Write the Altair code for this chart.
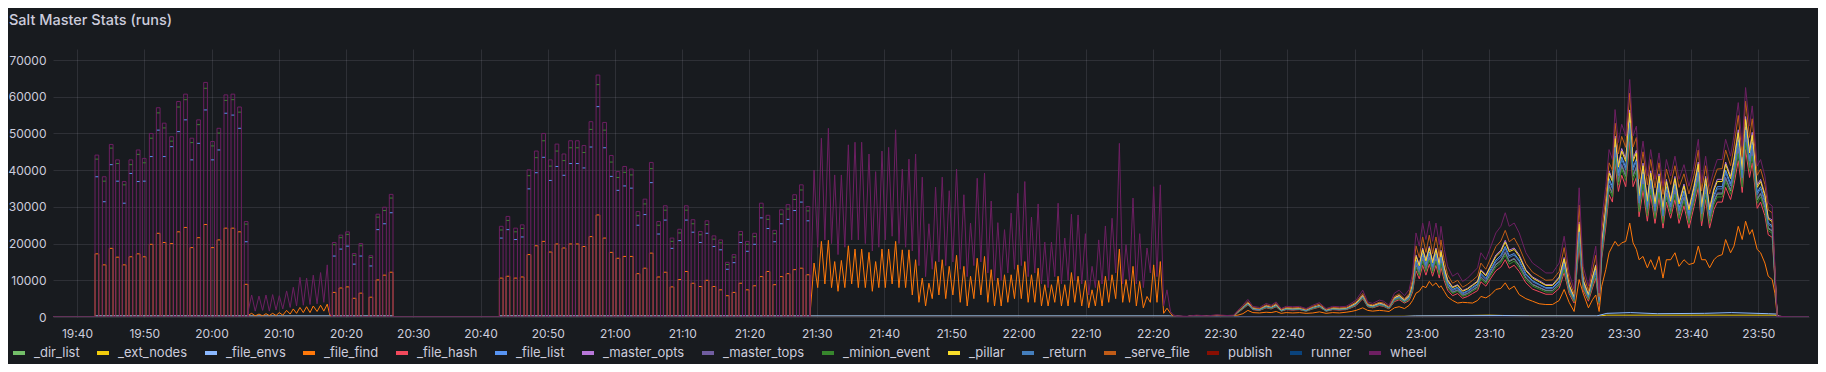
import altair as alt
import pandas as pd

# ---------------- series / colours ----------------
SERIES = ["_dir_list", "_ext_nodes", "_file_envs", "_file_find", "_file_hash", "_file_list",
          "_master_opts", "_master_tops", "_minion_event", "_pillar", "_return", "_serve_file",
          "publish", "runner", "wheel"]
COLORS = ["#73BF69", "#F2CC0C", "#8AB8FF", "#FF780A", "#F2495C", "#5794F2", "#B877D9",
          "#705DA0", "#37872D", "#FADE2A", "#447EBC", "#C15C17", "#890F02", "#0A437C", "#6D1F62"]

# time = minutes after 19:40, values in thousands of runs
X_MIN, X_MAX = -3.57, 257.55
BAR_W = 0.55
TICK_MINUTES = list(range(0, 251, 10))
Y_TICKS = list(range(0, 70001, 10000))

# ---- 19:42 - 20:05 : pulses ----
S2_START = [2.68, 3.77, 4.81, 5.75, 6.74, 7.73, 8.82, 9.72, 10.76, 11.80, 12.69, 13.78,
            14.82, 15.86, 16.80, 17.80, 18.84, 19.88, 20.82, 21.86, 22.90, 23.89, 24.88]
S2_WHEEL = [44.1, 38.2, 47.0, 42.8, 36.9, 42.8, 45.5, 43.2, 50.0, 57.0, 52.8, 49.1,
            58.7, 60.7, 48.7, 53.7, 63.9, 47.8, 51.4, 60.5, 60.7, 57.2, 26.0]
S2_MINION = [43.0, 37.0, 46.0, 41.8, 36.0, 41.5, 44.3, 42.0, 48.7, 55.6, 51.5, 47.9,
             57.2, 59.2, 47.5, 52.4, 62.3, 46.6, 50.1, 59.0, 59.2, 55.8, 25.3]
S2_LIST = [38.2, 31.4, 41.5, 37.0, 31.0, 39.1, 36.9, 37.0, 43.7, 50.9, 43.7, 46.4,
           50.5, 53.7, 42.8, 47.3, 56.4, 42.8, 45.5, 55.5, 55.0, 51.4, 20.5]
S2_FIND = [17.2, 14.2, 18.7, 16.3, 14.2, 16.4, 17.2, 16.4, 19.8, 22.8, 20.3, 20.0,
           23.2, 24.4, 18.9, 21.6, 25.2, 18.9, 21.0, 24.2, 24.2, 23.2, 8.9]

# ---- 20:05 - 20:18 : low humps ----
S3_T = [25.5, 25.97, 26.5, 27.06, 27.6, 28.10, 28.6, 29.09, 29.6, 30.08, 30.6, 31.17, 31.7,
        32.16, 32.65, 33.15, 33.65, 34.14, 34.65, 35.13, 35.7, 36.22, 36.7, 37.21, 37.6]
S3_WHEEL = [2.0, 6.0, 1.6, 5.7, 1.8, 6.0, 1.6, 6.1, 1.9, 5.8, 2.2, 7.1, 2.6,
            8.1, 3.0, 10.8, 3.2, 10.6, 3.4, 11.4, 3.6, 12.1, 4.0, 14.2, 1.0]
S3_FIND = [0.5, 1.0, 0.3, 0.8, 0.3, 0.9, 0.4, 1.0, 0.4, 1.2, 0.5, 1.8, 0.8,
           2.2, 1.0, 2.6, 1.2, 2.8, 1.2, 3.0, 1.5, 3.2, 1.6, 3.5, 0.5]

# ---- 20:18 - 20:27 : pulses ----
S4_START = [37.97, 38.96, 39.95, 40.94, 41.93, 43.42, 44.46, 45.45, 46.44]
S4_WHEEL = [20.3, 22.3, 23.2, 17.3, 20.0, 16.7, 28.0, 29.9, 33.4]
S4_MINION = [19.7, 21.6, 22.5, 16.8, 19.4, 16.2, 27.2, 29.0, 32.4]
S4_LIST = [16.6, 18.5, 19.3, 14.4, 16.6, 13.9, 23.8, 25.4, 28.4]
S4_FIND = [6.7, 7.9, 8.2, 5.1, 6.5, 5.4, 10.1, 11.4, 12.2]

# ---- 20:42 - 21:29 : pulses ----
S6_START = [62.81, 63.80, 64.94, 65.93, 66.93, 68.02, 69.11, 70.10, 71.09, 72.13,
            73.12, 74.12, 75.11, 76.15, 77.19, 78.18, 79.17, 80.16, 81.16, 82.15,
            83.14, 84.18, 85.12, 86.21, 87.20, 88.20, 89.34, 90.33, 91.32, 92.41,
            93.40, 94.44, 95.43, 96.43, 97.42, 98.41, 99.40, 100.49, 101.48, 102.47,
            103.47, 104.46, 105.45, 106.44, 107.43, 108.42]
S6_WHEEL = [24.7, 27.4, 24.2, 25.1, 40.1, 45.2, 50.0, 42.8, 47.1, 44.4,
            48.0, 48.0, 46.7, 53.2, 65.9, 53.0, 44.0, 39.6, 41.0, 40.3,
            28.7, 32.1, 42.1, 26.0, 30.3, 21.5, 23.9, 30.3, 26.5, 23.3,
            26.2, 22.1, 21.0, 14.9, 17.0, 23.3, 20.6, 22.8, 31.0, 27.7,
            23.6, 29.2, 30.6, 33.3, 36.0, 30.1]
S6_MINION = [23.7, 26.3, 23.2, 24.1, 38.5, 43.4, 48.0, 41.1, 45.2, 42.6,
             46.1, 46.1, 44.8, 51.1, 63.3, 50.9, 42.2, 38.0, 39.4, 38.7,
             27.6, 30.8, 40.4, 25.0, 29.1, 20.6, 22.9, 29.1, 25.4, 22.4,
             25.2, 21.2, 20.2, 14.3, 16.3, 22.4, 19.8, 21.9, 29.8, 26.6,
             22.7, 28.0, 29.4, 32.0, 34.6, 28.9]
S6_LIST = [21.5, 23.8, 21.1, 21.8, 34.9, 39.3, 43.5, 37.2, 41.0, 38.6,
           41.8, 41.8, 40.6, 46.3, 57.3, 46.1, 38.3, 34.5, 35.7, 35.1,
           25.0, 27.9, 36.6, 22.6, 26.4, 18.7, 20.8, 26.4, 23.1, 20.3,
           22.8, 19.2, 18.3, 13.0, 14.8, 20.3, 17.9, 19.8, 27.0, 24.1,
           20.5, 25.4, 26.6, 29.0, 31.3, 26.2]
S6_FIND = [10.6, 11.1, 10.6, 10.9, 17.0, 19.4, 20.6, 17.7, 19.9, 18.8,
           19.9, 19.9, 19.2, 21.9, 27.8, 21.5, 17.6, 16.0, 16.5, 16.5,
           11.8, 13.3, 17.4, 10.9, 12.2, 8.2, 10.2, 12.4, 9.2, 8.3,
           10.0, 8.3, 7.4, 5.8, 6.7, 9.2, 7.4, 8.5, 11.0, 12.4,
           8.8, 11.0, 11.8, 12.9, 13.3, 11.5]

# ---- 21:29 - 22:23 : spikes (peaks, with troughs between them) ----
S7_PEAK_T = [109.60, 110.69, 111.73, 112.67, 113.66, 114.70, 115.69, 116.68, 117.77, 118.76,
             119.70, 120.69, 121.73, 122.72, 123.71, 124.70, 125.69, 126.68, 127.67, 128.66,
             129.70, 130.79, 131.88, 132.87, 133.86, 134.95, 135.94, 136.93, 137.92, 138.91,
             139.90, 140.94, 141.93, 142.92, 143.91, 144.90, 145.89, 146.88, 147.87, 148.86,
             149.95, 150.94, 151.93, 152.92, 153.91, 155.00, 155.99, 157.03, 158.02, 159.11,
             160.10, 161.09, 162.08]
S7_WHEEL_PEAK = [40.0, 48.7, 51.4, 38.7, 38.7, 46.9, 47.6, 47.6, 44.4, 39.6,
                 45.2, 46.2, 51.0, 40.3, 43.0, 44.4, 38.1, 25.4, 35.4, 38.1,
                 34.4, 40.3, 33.3, 25.6, 37.8, 39.2, 31.6, 25.7, 23.8, 28.3,
                 33.7, 36.9, 27.2, 30.8, 20.4, 20.4, 31.0, 21.5, 28.0, 27.8,
                 22.7, 13.8, 21.0, 24.8, 26.9, 47.3, 19.7, 32.4, 22.7, 18.8,
                 35.5, 36.0, 7.4]
S7_WHEEL_TROUGH = [19, 21, 20, 17, 19, 21, 21, 20, 18, 19, 21, 22, 20, 19, 18,
                   14, 11, 13, 15, 14, 15, 13, 11, 14, 15, 12, 10, 10, 12, 13,
                   14, 11, 12, 9, 8, 11, 9, 10, 10, 9, 6, 8, 9, 10, 12, 9, 10, 9, 8, 12, 11, 3]
S7_FIND_PEAK = [14.7, 20.6, 20.9, 15.1, 15.4, 19.4, 18.5, 18.5, 17.6, 15.1,
                18.5, 18.5, 20.6, 18.3, 18.3, 15.6, 10.6, 9.2, 15.1, 15.6,
                13.8, 16.8, 13.8, 11.1, 16.0, 16.5, 12.9, 10.6, 11.5, 11.5,
                14.2, 15.1, 11.5, 13.3, 8.8, 8.8, 11.1, 8.8, 12.1, 11.1,
                9.9, 7.4, 9.9, 11.1, 11.5, 18.5, 10.2, 13.8, 9.7, 5.6,
                14.2, 15.1, 2.4]
S7_FIND_TROUGH = [8, 9, 8, 7, 8, 9, 8, 8, 7, 8, 8, 9, 8, 8, 6,
                  4, 3, 5, 6, 5, 6, 4, 3, 5, 6, 4, 3, 3, 4, 5,
                  5, 4, 4, 3, 3, 4, 3, 3, 4, 3, 2.5, 3, 3, 4, 5, 4, 4, 3, 2.5, 4, 4, 1]
S7_TAIL_T = [162.6, 163.0]
S7_TAIL_WHEEL = [1.5, 0.6]
S7_TAIL_FIND = [1.0, 0.2]

# ---- 22:23 - end : all series on one time grid ----
T_LATE = [163.5, 165.0, 166.5, 168.0, 169.5, 171.0, 172.0, 172.62, 173.37, 174.11,
          174.85, 175.84, 176.83, 177.57, 178.32, 179.06, 179.80, 180.79, 181.78, 182.77,
          183.76, 184.75, 185.74, 186.73, 187.72, 188.71, 189.46, 190.20, 191.19, 191.93,
          192.67, 193.66, 194.30, 195.10, 195.90, 196.60, 197.40, 198.10, 198.60, 199.11,
          199.60, 200.10, 200.59, 201.09, 201.58, 202.08, 202.57, 202.82, 203.32, 203.81,
          204.55, 205.30, 206.04, 206.78, 207.52, 208.27, 208.76, 209.50, 210.25, 210.99,
          211.73, 212.38, 212.97, 213.71, 214.46, 215.45, 216.44, 217.43, 218.42, 219.41,
          220.40, 221.14, 221.88, 222.62, 223.37, 223.96, 224.75, 225.35, 225.84, 226.34,
          226.73, 227.33, 227.82, 228.32, 228.71, 229.21, 229.70, 230.30, 230.89, 231.39,
          231.88, 232.28, 232.87, 233.51, 234.01, 234.65, 235.25, 235.84, 236.34, 236.98,
          237.62, 238.22, 238.96, 239.70, 240.45, 241.09, 241.58, 242.18, 242.77, 243.42,
          243.91, 244.65, 245.15, 245.89, 246.39, 247.03, 247.62, 248.12, 248.71, 249.11,
          249.85, 250.35, 250.99, 251.49, 252.08, 252.48, 252.82, 255.0, 257.55]

WHEEL_LATE = [0.3, 0.2, 0.5, 0.3, 0.6, 0.4, 0.5, 1.8, 3.2, 4.8,
              2.9, 2.6, 3.7, 3.2, 4.1, 2.3, 2.9, 2.8, 2.9, 2.3,
              3.2, 3.9, 2.3, 2.9, 2.8, 2.9, 3.7, 4.6, 7.3, 4.1,
              3.7, 4.6, 4.3, 3.2, 6.5, 7.3, 5.8, 7.5, 12.0, 22.9,
              19.3, 25.6, 21.1, 26.1, 20.6, 25.6, 19.7, 24.7, 18.4, 13.8,
              11.1, 12.0, 9.7, 10.6, 12.0, 13.4, 17.5, 15.6, 19.3, 22.9,
              24.7, 28.4, 24.7, 25.6, 22.9, 17.5, 14.7, 13.4, 12.0, 12.0,
              14.7, 22.0, 12.0, 7.5, 35.2, 13.8, 8.4, 14.7, 19.3, 6.5,
              26.5, 35.6, 45.6, 42.9, 56.5, 47.5, 52.5, 49.3, 64.7, 49.3,
              52.0, 40.2, 47.9, 38.4, 45.6, 37.5, 44.7, 35.6, 42.9, 38.4,
              43.8, 37.5, 41.5, 35.6, 41.1, 48.4, 36.5, 43.8, 35.6, 40.2,
              42.9, 42.9, 48.4, 43.8, 49.3, 58.4, 46.5, 62.5, 52.0, 57.5,
              41.1, 42.9, 38.4, 31.1, 30.2, 13.8, 0.2, 0, 0]
SERVE_FILE_LATE = [0.2, 0.1, 0.4, 0.2, 0.5, 0.3, 0.4, 1.5, 2.8, 4.2,
                   2.6, 2.3, 3.3, 2.9, 3.7, 2.1, 2.6, 2.5, 2.6, 2.1,
                   2.9, 3.5, 2.1, 2.6, 2.5, 2.6, 3.3, 4.1, 6.4, 3.6,
                   3.3, 4.0, 3.8, 2.8, 5.6, 6.3, 5.0, 6.4, 10.2, 19.4,
                   16.2, 21.8, 17.6, 22.3, 17.2, 21.8, 16.5, 21.0, 15.4, 11.5,
                   9.2, 10.0, 8.1, 8.9, 10.0, 11.2, 14.7, 13.0, 16.2, 19.2,
                   20.7, 23.6, 20.5, 21.5, 19.0, 14.6, 12.2, 11.1, 10.0, 10.1,
                   12.4, 18.9, 10.2, 6.2, 30.5, 11.8, 7.1, 12.6, 16.8, 5.5,
                   23.6, 32.4, 42.0, 40.0, 52.8, 44.4, 49.2, 46.2, 61.0, 46.3,
                   48.9, 37.6, 45.0, 36.0, 42.9, 35.2, 42.0, 33.4, 40.3, 36.1,
                   41.2, 35.3, 39.0, 33.5, 38.6, 45.5, 34.3, 41.2, 33.5, 37.8,
                   40.3, 40.4, 45.5, 41.2, 46.3, 54.9, 43.7, 58.8, 48.9, 54.0,
                   38.6, 40.3, 36.1, 29.2, 28.4, 13.0, 0.2, 0, 0]
MASTER_OPTS_LATE = [0.2, 0.1, 0.4, 0.2, 0.4, 0.3, 0.4, 1.4, 2.6, 3.9,
                    2.3, 2.1, 3.1, 2.6, 3.4, 1.8, 2.3, 2.2, 2.3, 1.8,
                    2.6, 3.1, 1.8, 2.3, 2.2, 2.3, 3.1, 3.8, 5.9, 3.4,
                    3.1, 3.8, 3.5, 2.6, 5.3, 5.9, 4.7, 5.9, 9.0, 16.9,
                    14.3, 18.8, 15.6, 19.2, 15.2, 18.8, 14.6, 18.2, 13.5, 10.2,
                    8.2, 8.8, 7.2, 7.8, 8.8, 9.8, 12.9, 11.5, 14.2, 16.9,
                    18.2, 20.9, 18.2, 18.8, 16.9, 12.9, 10.9, 9.9, 8.8, 8.8,
                    10.9, 16.2, 8.8, 5.6, 25.9, 10.2, 6.2, 10.9, 14.2, 4.8,
                    20.2, 30.0, 39.8, 37.5, 49.3, 41.5, 45.9, 43.1, 56.4, 43.1,
                    45.4, 33.6, 41.9, 32.0, 39.8, 31.3, 39.0, 29.7, 37.5, 32.0,
                    38.3, 31.3, 36.2, 29.7, 35.8, 42.2, 30.4, 38.3, 29.7, 35.1,
                    37.5, 37.5, 42.2, 38.3, 43.0, 51.0, 40.6, 54.6, 45.4, 50.3,
                    35.9, 37.5, 33.5, 27.1, 26.4, 12.1, 0.2, 0, 0]
PILLAR_LATE = [0.2, 0.1, 0.4, 0.2, 0.4, 0.3, 0.4, 1.4, 2.6, 3.8,
               2.3, 2.1, 3.0, 2.6, 3.3, 1.8, 2.3, 2.2, 2.3, 1.8,
               2.6, 3.1, 1.8, 2.3, 2.2, 2.3, 3.0, 3.7, 5.8, 3.3,
               3.0, 3.7, 3.4, 2.6, 5.2, 5.8, 4.6, 5.8, 8.8, 16.5,
               13.9, 18.4, 15.2, 18.8, 14.8, 18.4, 14.2, 17.8, 13.2, 9.9,
               8.0, 8.6, 7.0, 7.6, 8.6, 9.6, 12.6, 11.2, 13.9, 16.5,
               17.8, 20.4, 17.8, 18.4, 16.5, 12.6, 10.6, 9.6, 8.6, 8.6,
               10.6, 15.8, 8.6, 5.4, 25.3, 9.9, 6.0, 10.6, 13.9, 4.7,
               19.8, 29.5, 39.2, 36.9, 48.6, 40.8, 45.2, 42.4, 55.6, 42.4,
               44.7, 33.0, 41.2, 31.5, 39.2, 30.8, 38.4, 29.2, 36.9, 31.5,
               37.7, 30.8, 35.7, 29.2, 35.3, 41.6, 29.9, 37.7, 29.2, 34.6,
               36.9, 36.9, 41.6, 37.7, 42.4, 50.2, 40.0, 53.8, 44.7, 49.5,
               35.3, 36.9, 33.0, 26.7, 26.0, 11.9, 0.2, 0, 0]
FILE_LIST_LATE = [0.2, 0.1, 0.4, 0.2, 0.4, 0.3, 0.4, 1.4, 2.5, 3.7,
                  2.2, 2.0, 2.9, 2.5, 3.2, 1.8, 2.2, 2.1, 2.2, 1.8,
                  2.5, 3.0, 1.8, 2.2, 2.1, 2.2, 2.9, 3.6, 5.6, 3.2,
                  2.9, 3.6, 3.3, 2.5, 5.0, 5.5, 4.4, 5.5, 8.3, 15.5,
                  13.0, 17.3, 14.3, 17.7, 13.9, 17.3, 13.3, 16.8, 12.4, 9.3,
                  7.5, 8.1, 6.5, 7.1, 8.1, 9.0, 11.9, 10.5, 13.1, 15.5,
                  16.8, 19.2, 16.7, 17.3, 15.5, 11.8, 9.9, 8.9, 8.0, 8.0,
                  9.9, 14.9, 8.1, 5.0, 23.8, 9.3, 5.6, 9.9, 13.1, 4.4,
                  18.9, 28.3, 37.7, 35.5, 46.9, 39.2, 43.6, 40.7, 53.7, 40.7,
                  43.0, 31.6, 39.5, 30.2, 37.7, 29.5, 37.0, 28.0, 35.5, 30.4,
                  36.3, 29.5, 34.4, 28.0, 34.0, 40.0, 28.6, 36.3, 28.0, 33.3,
                  35.5, 35.5, 40.0, 36.3, 40.8, 48.3, 38.5, 51.8, 43.0, 47.6,
                  33.9, 35.5, 31.7, 25.6, 24.9, 11.4, 0.2, 0, 0]
RETURN_LATE = [0.2, 0.1, 0.4, 0.2, 0.4, 0.3, 0.4, 1.3, 2.5, 3.6,
               2.2, 2.0, 2.8, 2.5, 3.1, 1.7, 2.2, 2.1, 2.2, 1.7,
               2.5, 3.0, 1.7, 2.2, 2.1, 2.2, 2.8, 3.5, 5.5, 3.1,
               2.8, 3.5, 3.2, 2.5, 4.9, 5.4, 4.3, 5.3, 8.1, 15.1,
               12.7, 16.9, 13.9, 17.3, 13.5, 16.9, 12.9, 16.3, 12.0, 9.0,
               7.2, 7.8, 6.3, 6.9, 7.8, 8.8, 11.6, 10.2, 12.7, 15.1,
               16.3, 18.7, 16.2, 16.9, 15.1, 11.4, 9.6, 8.7, 7.8, 7.8,
               9.6, 14.5, 7.8, 4.8, 23.2, 9.0, 5.4, 9.7, 12.7, 4.2,
               18.5, 27.8, 37.1, 34.9, 46.2, 38.5, 42.9, 40.0, 52.9, 40.0,
               42.4, 31.0, 38.9, 29.6, 37.1, 28.9, 36.4, 27.5, 34.9, 29.9,
               35.7, 28.9, 33.8, 27.5, 33.4, 39.4, 28.1, 35.7, 27.5, 32.7,
               34.9, 34.9, 39.4, 35.7, 40.2, 47.5, 37.9, 50.9, 42.4, 46.9,
               33.3, 34.9, 31.1, 25.2, 24.5, 11.2, 0.2, 0, 0]
MASTER_TOPS_LATE = [0.1, 0.1, 0.3, 0.2, 0.4, 0.2, 0.3, 1.3, 2.4, 3.5,
                    2.1, 1.9, 2.7, 2.4, 3.0, 1.7, 2.1, 2.0, 2.1, 1.7,
                    2.4, 2.9, 1.7, 2.1, 2.0, 2.1, 2.7, 3.4, 5.4, 3.0,
                    2.7, 3.4, 3.1, 2.4, 4.7, 5.2, 4.2, 5.1, 7.7, 14.4,
                    12.0, 16.0, 13.1, 16.4, 12.8, 16.0, 12.2, 15.5, 11.4, 8.5,
                    6.8, 7.4, 6.0, 6.5, 7.4, 8.3, 11.0, 9.7, 12.1, 14.4,
                    15.5, 17.8, 15.3, 16.0, 14.2, 10.8, 9.0, 8.1, 7.3, 7.3,
                    9.1, 13.8, 7.4, 4.5, 22.1, 8.5, 5.1, 9.1, 12.1, 4.0,
                    17.7, 26.8, 36.0, 33.8, 44.9, 37.2, 41.6, 38.6, 51.3, 38.6,
                    41.0, 29.9, 37.5, 28.5, 36.0, 27.9, 35.2, 26.5, 33.8, 29.0,
                    34.6, 27.9, 32.7, 26.5, 32.4, 38.1, 27.1, 34.6, 26.5, 31.7,
                    33.8, 33.8, 38.1, 34.6, 38.9, 46.0, 36.6, 49.3, 41.0, 45.4,
                    32.2, 33.8, 30.0, 24.3, 23.6, 10.8, 0.1, 0, 0]
DIR_LIST_LATE = [0.1, 0.1, 0.3, 0.2, 0.4, 0.2, 0.3, 1.3, 2.4, 3.5,
                 2.1, 1.9, 2.7, 2.4, 3.0, 1.7, 2.1, 2.0, 2.1, 1.7,
                 2.4, 2.9, 1.7, 2.1, 2.0, 2.1, 2.7, 3.3, 5.3, 3.0,
                 2.7, 3.3, 3.1, 2.4, 4.6, 5.1, 4.1, 5.0, 7.6, 14.2,
                 11.8, 15.8, 12.9, 16.2, 12.6, 15.8, 12.0, 15.3, 11.2, 8.3,
                 6.7, 7.3, 5.9, 6.4, 7.3, 8.2, 10.8, 9.5, 11.9, 14.2,
                 15.3, 17.5, 15.1, 15.8, 14.0, 10.6, 8.8, 8.0, 7.2, 7.2,
                 8.9, 13.6, 7.3, 4.4, 21.8, 8.3, 5.0, 9.0, 11.9, 3.9,
                 17.5, 26.5, 35.7, 33.5, 44.5, 36.8, 41.2, 38.3, 50.9, 38.3,
                 40.7, 29.6, 37.2, 28.3, 35.7, 27.6, 34.9, 26.2, 33.5, 28.7,
                 34.3, 27.6, 32.5, 26.2, 32.1, 37.8, 26.8, 34.3, 26.2, 31.4,
                 33.5, 33.5, 37.8, 34.3, 38.6, 45.6, 36.3, 48.9, 40.7, 45.0,
                 31.9, 33.5, 29.8, 24.1, 23.4, 10.7, 0.1, 0, 0]
MINION_EVENT_LATE = [0.1, 0.1, 0.3, 0.2, 0.4, 0.2, 0.3, 1.2, 2.3, 3.4,
                     2.1, 1.9, 2.6, 2.3, 2.9, 1.6, 2.1, 2.0, 2.1, 1.6,
                     2.3, 2.8, 1.6, 2.1, 2.0, 2.1, 2.6, 3.3, 5.2, 2.9,
                     2.6, 3.3, 3.0, 2.3, 4.5, 5.0, 4.0, 4.8, 7.3, 13.6,
                     11.3, 15.2, 12.4, 15.5, 12.0, 15.2, 11.5, 14.7, 10.7, 7.9,
                     6.4, 7.0, 5.6, 6.1, 7.0, 7.8, 10.4, 9.1, 11.4, 13.6,
                     14.7, 16.8, 14.4, 15.2, 13.4, 10.1, 8.4, 7.6, 6.8, 6.8,
                     8.5, 13.0, 7.0, 4.2, 20.9, 7.9, 4.7, 8.6, 11.4, 3.7,
                     17.0, 25.8, 34.8, 32.7, 43.5, 35.9, 40.3, 37.2, 49.8, 37.2,
                     39.7, 28.7, 36.2, 27.5, 34.8, 26.8, 34.0, 25.5, 32.7, 28.1,
                     33.4, 26.8, 31.7, 25.5, 31.3, 36.9, 26.1, 33.4, 25.5, 30.6,
                     32.7, 32.7, 36.9, 33.4, 37.6, 44.5, 35.4, 47.7, 39.7, 43.9,
                     31.0, 32.7, 29.0, 23.5, 22.8, 10.4, 0.1, 0, 0]
FILE_HASH_LATE = [0.1, 0.1, 0.3, 0.2, 0.4, 0.2, 0.3, 1.2, 2.2, 3.3,
                  2.0, 1.8, 2.5, 2.2, 2.8, 1.6, 2.0, 1.9, 2.0, 1.6,
                  2.2, 2.7, 1.6, 2.0, 1.9, 2.0, 2.5, 3.1, 5.0, 2.8,
                  2.5, 3.1, 2.9, 2.2, 4.2, 4.7, 3.8, 4.5, 6.8, 12.6,
                  10.4, 14.1, 11.4, 14.4, 11.1, 14.1, 10.6, 13.6, 9.9, 7.3,
                  5.8, 6.4, 5.1, 5.6, 6.4, 7.2, 9.6, 8.4, 10.6, 12.6,
                  13.6, 15.6, 13.3, 14.1, 12.4, 9.3, 7.6, 6.9, 6.2, 6.2,
                  7.8, 12.1, 6.4, 3.8, 19.4, 7.3, 4.3, 7.9, 10.6, 3.4,
                  16.0, 24.5, 33.3, 31.3, 41.8, 34.2, 38.6, 35.5, 47.8, 35.5,
                  38.0, 27.3, 34.5, 26.1, 33.3, 25.5, 32.6, 24.2, 31.3, 26.9,
                  32.0, 25.5, 30.3, 24.2, 30.0, 35.3, 24.8, 32.0, 24.2, 29.3,
                  31.3, 31.3, 35.3, 32.0, 36.0, 42.6, 33.9, 45.6, 38.0, 42.0,
                  29.6, 31.3, 27.6, 22.4, 21.7, 9.9, 0.1, 0, 0]
FILE_FIND_LATE = [0.2, 0.1, 0.4, 0.2, 0.4, 0.3, 0.4, 0.5, 0.9, 1.8,
                  1.2, 1.1, 1.3, 1.2, 1.5, 1.0, 1.2, 1.1, 1.2, 1.0,
                  1.1, 1.4, 1.0, 1.2, 1.1, 1.3, 1.5, 1.8, 2.5, 1.8,
                  1.6, 1.8, 1.7, 1.5, 2.5, 2.8, 2.3, 3.2, 4.5, 6.5,
                  7.0, 8.4, 8.0, 9.7, 8.5, 9.3, 8.0, 8.5, 7.0, 5.5,
                  4.5, 3.8, 4.0, 3.9, 3.8, 4.5, 5.6, 5.2, 6.1, 7.5,
                  7.8, 9.3, 7.5, 8.4, 6.1, 5.0, 4.3, 3.6, 3.4, 3.4,
                  4.5, 7.5, 4.0, 1.5, 10.2, 6.5, 2.5, 4.7, 6.0, 1.5,
                  8.4, 12.9, 17.5, 19.3, 20.6, 19.3, 20.2, 20.6, 25.6, 20.2,
                  18.4, 15.6, 16.5, 13.4, 15.6, 12.9, 16.5, 10.6, 15.6, 15.6,
                  17.5, 13.8, 15.6, 14.3, 14.7, 19.3, 15.6, 15.6, 13.4, 15.6,
                  16.5, 17.0, 21.1, 17.5, 19.3, 24.7, 21.1, 26.1, 22.5, 23.8,
                  18.4, 17.5, 14.7, 11.1, 10.2, 6.5, 0.2, 0, 0]

# ---- low series over the whole range ----
FILE_ENVS_T = [X_MIN, 2.6, 2.7, 47.0, 47.2, 62.7, 62.8, 162.5, 163.5, 197.0, 199.0, 212.0,
               216.0, 226.0, 227.5, 231.0, 235.0, 242.0, 246.0, 251.5, 252.8, 253.2, X_MAX]
FILE_ENVS_V = [0, 0, 0.3, 0.3, 0, 0, 0.3, 0.3, 0.1, 0.1, 0.3, 0.4,
               0.3, 0.3, 1.0, 1.2, 0.9, 1.0, 1.2, 0.9, 0.8, 0, 0]
EXT_NODES_T = [X_MIN, 2.6, 2.7, 47.0, 47.2, 62.7, 62.8, 162.5, 163.5, 199.0, 210.0, 215.0,
               226.0, 227.5, 252.5, 253.2, X_MAX]
EXT_NODES_V = [0, 0, 0.2, 0.2, 0, 0, 0.2, 0.2, 0.1, 0.2, 0.5, 0.3,
               0.2, 0.5, 0.5, 0, 0]
FLAT_T = [X_MIN, X_MAX]
FLAT_V = [0, 0]


# ---------------- build the table ----------------
def pulses(starts, heights):
    pts = []
    for s, h in zip(starts, heights):
        pts += [(s, 0), (s, h), (s + BAR_W, h), (s + BAR_W, 0)]
    return pts


def spikes(peak_t, peaks, troughs):
    pts = []
    for i, (t, p) in enumerate(zip(peak_t, peaks)):
        pts.append((t, p))
        if i < len(troughs):
            pts.append(((t + peak_t[i + 1]) / 2, troughs[i]))
    return pts


def full(w2, w3, w4, w6, w7p, w7t, tail, late):
    return [([(X_MIN, 0), (2.6, 0)] + pulses(S2_START, w2) + list(zip(S3_T, w3))
             + pulses(S4_START, w4) + [(62.7, 0)] + pulses(S6_START, w6)
             + spikes(S7_PEAK_T, w7p, w7t) + list(zip(S7_TAIL_T, tail))
             + list(zip(T_LATE, late)))]


def tops(starts, heights):
    # only the flat top of each pulse is visible above the pulse walls of 'wheel'
    return [[(s, h), (s + BAR_W, h)] for s, h in zip(starts, heights)]


def dashed(l2, l4, l6, late):
    return (tops(S2_START, l2) + tops(S4_START, l4) + tops(S6_START, l6)
            + [list(zip(T_LATE, late))])


segments = {
    "wheel": full(S2_WHEEL, S3_WHEEL, S4_WHEEL, S6_WHEEL, S7_WHEEL_PEAK, S7_WHEEL_TROUGH,
                  S7_TAIL_WHEEL, WHEEL_LATE),
    "_file_find": full(S2_FIND, S3_FIND, S4_FIND, S6_FIND, S7_FIND_PEAK, S7_FIND_TROUGH,
                       S7_TAIL_FIND, FILE_FIND_LATE),
    "_serve_file": [list(zip(T_LATE, SERVE_FILE_LATE))],
    "_master_opts": [list(zip(T_LATE, MASTER_OPTS_LATE))],
    "_pillar": [list(zip(T_LATE, PILLAR_LATE))],
    "_file_list": dashed(S2_LIST, S4_LIST, S6_LIST, FILE_LIST_LATE),
    "_return": [list(zip(T_LATE, RETURN_LATE))],
    "_master_tops": [list(zip(T_LATE, MASTER_TOPS_LATE))],
    "_dir_list": [list(zip(T_LATE, DIR_LIST_LATE))],
    "_minion_event": dashed(S2_MINION, S4_MINION, S6_MINION, MINION_EVENT_LATE),
    "_file_hash": [list(zip(T_LATE, FILE_HASH_LATE))],
    "_file_envs": [list(zip(FILE_ENVS_T, FILE_ENVS_V))],
    "_ext_nodes": [list(zip(EXT_NODES_T, EXT_NODES_V))],
    "publish": [list(zip(FLAT_T, FLAT_V))],
    "runner": [list(zip(FLAT_T, FLAT_V))],
}

rows = []
for name, segs in segments.items():
    for k, pts in enumerate(segs):
        for i, (t, v) in enumerate(pts):
            rows.append({"series": name, "seg": k, "t": t, "v": v * 1000, "i": i})
df = pd.DataFrame(rows)

TEXT = "#ccccdc"
FONT = "Inter"

color = alt.Color(
    "series:N",
    scale=alt.Scale(domain=SERIES, range=COLORS),
    legend=alt.Legend(
        title=None, orient="none", legendX=-42, legendY=296, direction="horizontal",
        symbolType="stroke", symbolStrokeWidth=4, symbolSize=144, symbolOpacity=1,
        labelOffset=7, columnPadding=9, labelFontSize=13, labelColor=TEXT,
        labelFont=FONT, labelLimit=300, padding=0,
    ),
)
x = alt.X("t:Q", scale=alt.Scale(domain=[X_MIN, X_MAX], nice=False, zero=False),
          axis=alt.Axis(values=TICK_MINUTES, title=None, labelFlush=False,
                        labelExpr="timeFormat(datetime(2000, 0, 1, 19, 40 + datum.value), '%H:%M')"))
y = alt.Y("v:Q", scale=alt.Scale(domain=[0, 73000], nice=False),
          axis=alt.Axis(values=Y_TICKS, format="d", title=None))

layers = [
    alt.Chart(df).transform_filter(alt.datum.series == s)
    .mark_line(clip=True, strokeWidth=1)
    .encode(x=x, y=y, color=color, detail="seg:N", order="i:Q")
    for s in SERIES
]

chart = (
    alt.layer(*layers)
    .properties(
        width=1756, height=268,
        padding={"left": 45, "top": 41, "right": 9, "bottom": 47},
        autosize=alt.AutoSizeParams(type="none"),
        title=alt.TitleParams("Salt Master Stats (runs)", anchor="start", frame="group",
                              dx=-44, offset=21, fontSize=14.5, fontWeight=500,
                              color=TEXT, font=FONT),
    )
    .configure(background="#181b1f")
    .configure_view(strokeWidth=0)
    .configure_axis(grid=True, gridColor="rgba(204,204,220,0.12)", gridWidth=1,
                    domain=False, ticks=False, labelFont=FONT, labelFontSize=12,
                    labelColor=TEXT)
    .configure_axisX(labelPadding=11)
    .configure_axisY(labelPadding=7)
)

chart.save("out.html", embed_options={"renderer": "svg", "actions": False})
